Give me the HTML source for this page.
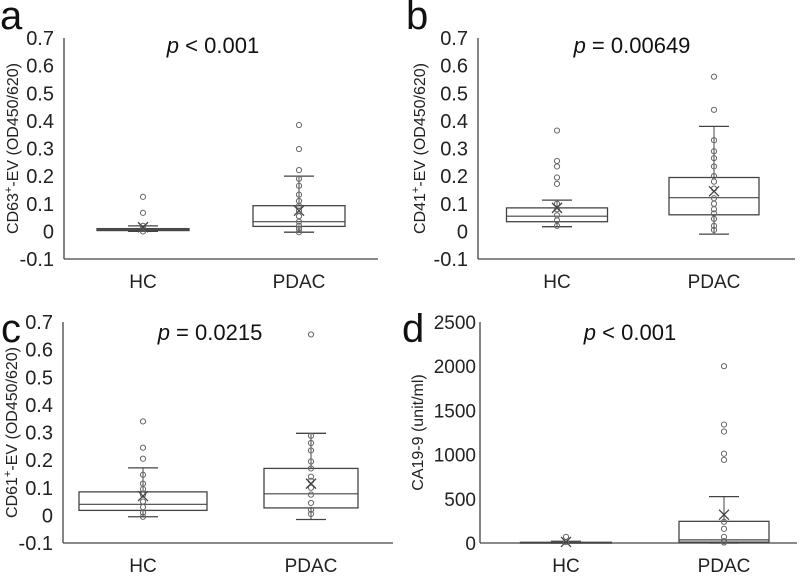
<!DOCTYPE html>
<html><head><meta charset="utf-8"><style>
body{margin:0;background:#fff;width:800px;height:575px;overflow:hidden}
svg{font-family:"Liberation Sans",Arial,sans-serif}
</style></head><body>
<svg id="fig" width="800" height="575" viewBox="0 0 800 575" xmlns="http://www.w3.org/2000/svg"></svg>
<script>
// ---- data ----
const categories = ["HC", "PDAC"];
const aTicks = [0.7,0.6,0.5,0.4,0.3,0.2,0.1,0,-0.1];
const dTicks = [2500,2000,1500,1000,500,0];
// panel a
const aHC = {q1:.003,med:.006,q3:.01,wl:0,wh:.02,mean:.015};
const aHCpts = [.125,.067,.02,.01,0];
const aPD = {q1:.018,med:.035,q3:.093,wl:-.003,wh:.2,mean:.075};
const aPDpts = [.385,.298,.222,.19,.165,.133,.11,.092,.075,.055,.035,.02,.01,-.003];
// panel b
const bHC = {q1:.035,med:.055,q3:.085,wl:.017,wh:.113,mean:.085};
const bHCpts = [.365,.255,.235,.195,.172,.1,.08,.058,.04,.02];
const bPD = {q1:.06,med:.122,q3:.195,wl:-.01,wh:.38,mean:.145};
const bPDpts = [.56,.44,.33,.29,.265,.235,.2,.18,.155,.12,.1,.08,.065,.045,.02,.005];
// panel c
const cHC = {q1:.018,med:.04,q3:.085,wl:-.005,wh:.172,mean:.07};
const cHCpts = [.34,.245,.205,.147,.115,.095,.075,.05,.03,.01,-.005];
const cPD = {q1:.027,med:.078,q3:.17,wl:-.015,wh:.297,mean:.115};
const cPDpts = [.655,.288,.262,.235,.195,.17,.14,.125,.1,.075,.045,.02,.005];
// panel d
const dHC = {q1:0,med:3,q3:8,wl:0,wh:20,mean:12};
const dHCpts = [70,10];
const dPD = {q1:10,med:35,q3:245,wl:0,wh:525,mean:320};
const dPDpts = [2000,1340,1260,1010,940,240,160,70,20,5];

const NS="http://www.w3.org/2000/svg";
const svg=document.getElementById("fig");
function mk(tag,attrs,parent,txt){const e=document.createElementNS(NS,tag);for(const k in attrs)e.setAttribute(k,attrs[k]);if(txt!==undefined)e.textContent=txt;(parent||svg).appendChild(e);return e;}

function panel(cfg){
  const g=mk("g",{});
  
  
  const y=v=>cfg.y0+(cfg.vmax-v)/(cfg.vmax-cfg.vmin)*(cfg.y1-cfg.y0);
  const col="#444";
  const L=mk("text",{x:cfg.lx,y:cfg.ly,"font-size":40,fill:"#111"},g,cfg.letter);
  
  
  const ax=mk("line",{x1:cfg.ax,y1:y(cfg.vmax),x2:cfg.ax,y2:y(cfg.vmin),stroke:col,"stroke-width":1.3},g);
  
  
  const xa=mk("line",{x1:cfg.ax,y1:y(cfg.vmin),x2:cfg.axEnd,y2:y(cfg.vmin),stroke:col,"stroke-width":1.3},g);
  
  
  cfg.ticks.forEach(t=>{
    const tl=mk("text",{x:cfg.ax-cfg.tgap,y:y(t)+7,"font-size":cfg.tfs,"text-anchor":"end",fill:"#222"},g,String(t));
    
    
  });
  const cy=(y(cfg.vmax)+y(cfg.vmin))/2;
  const yt=mk("text",{x:0,y:0,"font-size":16,"text-anchor":"middle",fill:"#222",transform:`translate(${cfg.tx},${cy}) rotate(-90)`},g);
  
  
  if(cfg.sup){mk("tspan",{},yt,cfg.title1);mk("tspan",{"baseline-shift":"super","font-size":11},yt,"+");mk("tspan",{},yt,cfg.title2);}
  else yt.textContent=cfg.title1;
  const pt=mk("text",{x:cfg.px,y:cfg.py,"font-size":22,"text-anchor":"middle",fill:"#111"},g);
  
  
  mk("tspan",{"font-style":"italic"},pt,"p");mk("tspan",{},pt,cfg.ptext);
  cfg.groups.forEach((gr,i)=>{
    const cx=cfg.centers[i], w=cfg.widths[i], s=gr.stats;
    const bg=mk("g",{},g);
    
    
    mk("line",{x1:cx,y1:y(s.q3),x2:cx,y2:y(s.wh),stroke:col},bg);
    mk("line",{x1:cx,y1:y(s.q1),x2:cx,y2:y(s.wl),stroke:col},bg);
    mk("line",{x1:cx-15,y1:y(s.wh),x2:cx+15,y2:y(s.wh),stroke:col,"stroke-width":1.3},bg);
    mk("line",{x1:cx-15,y1:y(s.wl),x2:cx+15,y2:y(s.wl),stroke:col,"stroke-width":1.3},bg);
    mk("rect",{x:cx-w/2,y:y(s.q3),width:w,height:Math.max(0.8,y(s.q1)-y(s.q3)),fill:"#fff",stroke:col,"stroke-width":1.3},bg);
    mk("line",{x1:cx-w/2,y1:y(s.med),x2:cx+w/2,y2:y(s.med),stroke:col,"stroke-width":1.2},bg);
    gr.pts.forEach(v=>{
      const c=mk("circle",{cx:cx,cy:y(v),r:2.6,fill:"none",stroke:"#666","stroke-width":1},bg);
      
      
    });
    const m=y(s.mean);
    const mx=mk("path",{d:`M${cx-5},${m-5}L${cx+5},${m+5}M${cx-5},${m+5}L${cx+5},${m-5}`,stroke:"#444","stroke-width":1.3},bg);
    
    
    const xl=mk("text",{x:cx,y:cfg.xly,"font-size":19,"text-anchor":"middle",fill:"#222"},g,categories[i]);
    
    
  });
}
panel({letter:"a",lx:0,ly:29,ax:64,axEnd:378,y0:38,y1:259,vmax:.7,vmin:-.1,ticks:aTicks,tfs:20,tgap:10,tx:18,sup:true,title1:"CD63",title2:"-EV (OD450/620)",px:213,py:53,ptext:" < 0.001",centers:[143,299],widths:[92,92],xly:288,groups:[{stats:aHC,pts:aHCpts},{stats:aPD,pts:aPDpts}]});
panel({letter:"b",lx:406,ly:29,ax:478,axEnd:795,y0:38,y1:259,vmax:.7,vmin:-.1,ticks:aTicks,tfs:20,tgap:10,tx:425,sup:true,title1:"CD41",title2:"-EV (OD450/620)",px:632,py:53,ptext:" = 0.00649",centers:[557,714],widths:[101,90],xly:288,groups:[{stats:bHC,pts:bHCpts},{stats:bPD,pts:bPDpts}]});
panel({letter:"c",lx:1,ly:342,ax:63,axEnd:393,y0:322,y1:543,vmax:.7,vmin:-.1,ticks:aTicks,tfs:20,tgap:10,tx:17,sup:true,title1:"CD61",title2:"-EV (OD450/620)",px:210,py:340,ptext:" = 0.0215",centers:[143,311],widths:[128,94],xly:572,groups:[{stats:cHC,pts:cHCpts},{stats:cPD,pts:cPDpts}]});
panel({letter:"d",lx:402,ly:342,ax:480,axEnd:797,y0:322,y1:543,vmax:2500,vmin:0,ticks:dTicks,tfs:19,tgap:4,tx:423,sup:false,title1:"CA19-9 (unit/ml)",px:630,py:340,ptext:" < 0.001",centers:[566,724],widths:[91,90],xly:572,groups:[{stats:dHC,pts:dHCpts},{stats:dPD,pts:dPDpts}]});
</script>
</body></html>
